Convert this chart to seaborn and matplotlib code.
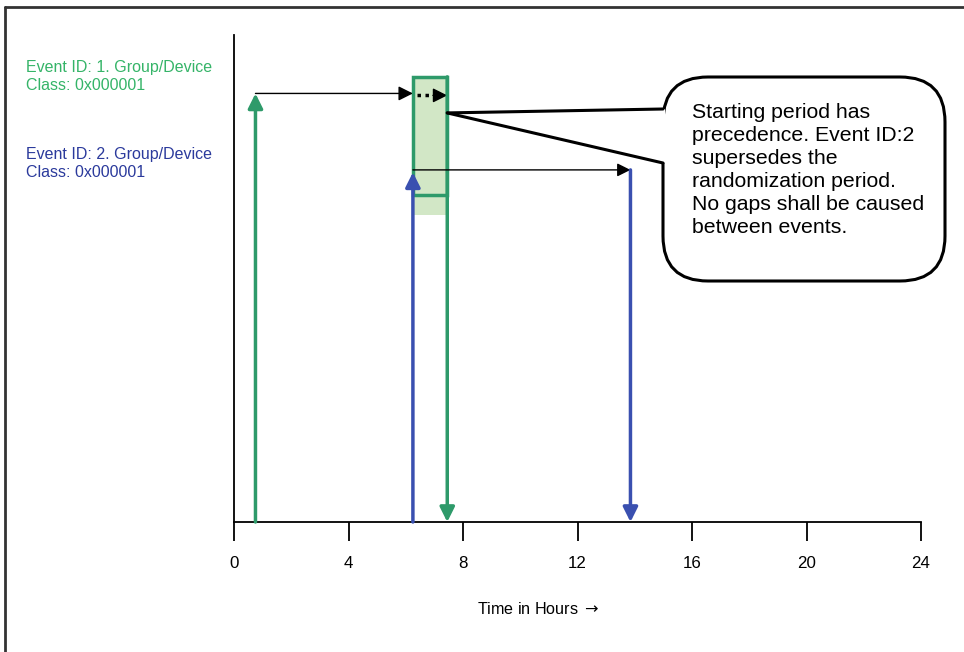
import numpy as np
import matplotlib
matplotlib.use("Agg")
import matplotlib.pyplot as plt
import seaborn as sns
from matplotlib.patches import FancyBboxPatch, Rectangle, Polygon

# donnees (heures)
ticks = [0, 4, 8, 12, 16, 20, 24]
event1_start = 0.75
event1_end = 7.45
event2_start = 6.25
event2_end = 13.85
level1 = 88.0      # hauteur fleche evenement 1
level2 = 72.3      # hauteur fleche evenement 2
rand_top = 91.4    # fenetre de randomisation
rand_bottom = 67.1
rand_fill_bottom = 63.0
callout_lines = ["Starting period has", "precedence. Event ID:2", "supersedes the",
                 "randomization period.", "No gaps shall be caused", "between events."]
label1 = "Event ID: 1. Group/Device\nClass: 0x000001"
label2 = "Event ID: 2. Group/Device\nClass: 0x000001"

green = "#2e9a6a"
green_txt = "#35b468"
blue = "#3a50b0"
blue_txt = "#2b3a9c"
fill = "#d2e7c6"

sns.set_style("white")
plt.rcParams['font.family'] = ['Liberation Sans', 'DejaVu Sans']
plt.rcParams['text.color'] = 'black'
plt.rcParams['xtick.color'] = 'black'

W, H = 964, 652
fig = plt.figure(figsize=(W / 100, H / 100), dpi=100)
ax = fig.add_axes([234 / W, 1 - 522 / H, 687 / W, 487 / H])
ax.set_xlim(0, 24)
ax.set_ylim(0, 100)
sns.despine(ax=ax)
for s in ["left", "bottom"]:
    ax.spines[s].set_color("black")
    ax.spines[s].set_linewidth(1.3)
ax.set_xticks(ticks)
ax.set_xticklabels([str(t) for t in ticks], fontsize=12.2)
ax.set_yticks([])
ax.tick_params(axis="x", direction="out", length=14, width=1.3, pad=10.5, bottom=True, colors="black")
ax.set_xlabel("Time in Hours $\\rightarrow$", fontsize=11.6, color="black")
ax.xaxis.set_label_coords((538 - 234) / 687, -0.162)

# fenetre de randomisation
ax.add_patch(Rectangle((event2_start, rand_fill_bottom), event1_end - event2_start,
                       rand_top - rand_fill_bottom, facecolor=fill, edgecolor="none", zorder=1))
ax.add_patch(Rectangle((event2_start, rand_bottom), event1_end - event2_start,
                       rand_top - rand_bottom, facecolor="none", edgecolor=green, lw=2.5, zorder=3))

def arrow(x0, y0, x1, y1, color, lw, ms, style="-|>"):
    ax.annotate("", xy=(x1, y1), xytext=(x0, y0),
                arrowprops=dict(arrowstyle=style, color=color, lw=lw, mutation_scale=ms,
                                shrinkA=0, shrinkB=0), zorder=4)

# evenement 1
arrow(event1_start, 0, event1_start, level1, green, 2.5, 22)
arrow(event1_start, level1, event2_start, level1, "black", 1.0, 22)
ax.plot([event2_start + 0.15, event1_end - 0.45], [level1 - 0.4, level1 - 0.4],
        color="black", lw=2.5, ls=(0, (1, 1.3)), zorder=4)
arrow(event1_end - 0.5, level1 - 0.4, event1_end, level1 - 0.4, "black", 1.0, 22)
arrow(event1_end, rand_top, event1_end, 0, green, 2.5, 22)

# evenement 2
arrow(event2_start, 0, event2_start, level2 - 0.5, blue, 2.5, 22)
arrow(event2_start, level2, event2_end, level2, "black", 1.0, 20)
arrow(event2_end, level2, event2_end, 0, blue, 2.5, 22)

# textes a gauche
fig.text(26 / W, 1 - 76.5 / H, label1, color=green_txt, fontsize=11.5, va="center", ha="left", linespacing=1.22)
fig.text(26 / W, 1 - 163.5 / H, label2, color=blue_txt, fontsize=11.5, va="center", ha="left", linespacing=1.22)

# bulle (coordonnees pixels)
ov = fig.add_axes([0, 0, 1, 1], zorder=5)
ov.set_xlim(0, W)
ov.set_ylim(H, 0)
ov.axis("off")
ov.patch.set_alpha(0)
tip = ax.transData.transform((event1_end, 84.0))
tipx, tipy = tip[0], H - tip[1]
ov.add_patch(FancyBboxPatch((663, 77), 282, 204, boxstyle="round,pad=0,rounding_size=45",
                            facecolor="white", edgecolor="black", lw=2.2))
ov.add_patch(Polygon([(665, 109), (tipx + 2, tipy), (665, 163)], closed=True,
                     facecolor="white", edgecolor="none"))
ov.plot([663, tipx], [109, tipy], color="black", lw=2.2, solid_capstyle="round")
ov.plot([663, tipx], [163, tipy], color="black", lw=2.2, solid_capstyle="round")
ov.text(692, 103, "\n".join(callout_lines), fontsize=15.3, va="top", ha="left", linespacing=1.27)

# cadre
ov.plot([5, W], [7, 7], color="#333333", lw=2)
ov.plot([5, 5], [7, H], color="#333333", lw=2)

fig.savefig("out.png", dpi=100)
